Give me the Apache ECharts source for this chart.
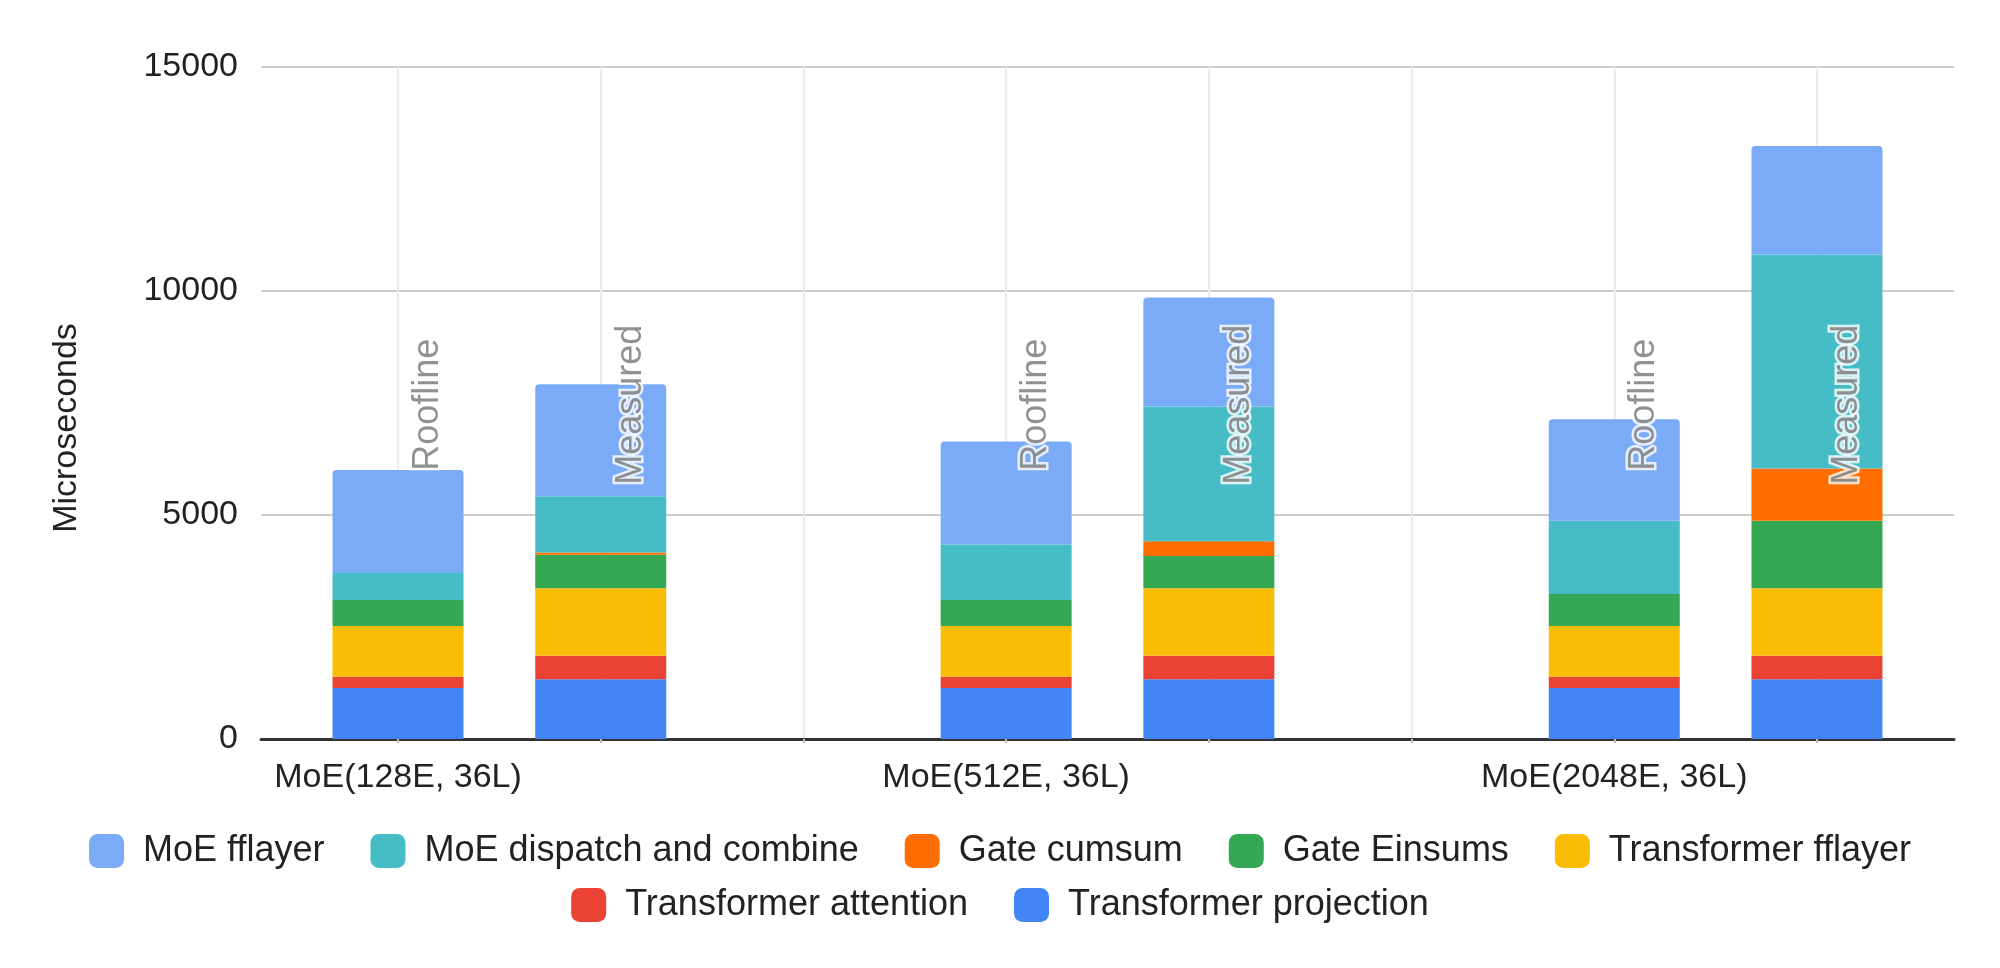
<!DOCTYPE html>
<html>
<head>
<meta charset="utf-8">
<title>MoE step time breakdown</title>
<script src="https://cdn.jsdelivr.net/npm/echarts@6/dist/echarts.min.js"></script>
<style>
  html, body { margin: 0; padding: 0; background: #fff; }
  #chart { width: 2000px; height: 968px; }
</style>
</head>
<body>
<div id="chart"></div>
<script>
// groups on the x axis, two bars each
const groups = ['MoE(128E, 36L)', 'MoE(512E, 36L)', 'MoE(2048E, 36L)'];
const variants = ['Roofline', 'Measured'];

// values per bar, order: 128E Roofline, 128E Measured, 512E Roofline, 512E Measured, 2048E Roofline, 2048E Measured
const transformerProjection = [1140, 1335, 1140, 1335, 1140, 1335];
const transformerAttention  = [250, 525, 250, 525, 250, 525];
const transformerFflayer    = [1130, 1505, 1130, 1505, 1130, 1505];
const gateEinsums           = [585, 745, 585, 720, 715, 1505];
const gateCumsum            = [0, 55, 0, 330, 0, 1170];
const moeDispatchCombine    = [600, 1255, 1235, 3005, 1635, 4775];
const moeFflayer            = [2300, 2500, 2300, 2435, 2270, 2420];

const yTicks = [0, 5000, 10000, 15000];

// stack order bottom -> top
const seriesDefs = [
  { name: 'Transformer projection', data: transformerProjection, color: '#4285F4' },
  { name: 'Transformer attention', data: transformerAttention, color: '#EA4335' },
  { name: 'Transformer fflayer', data: transformerFflayer, color: '#FBBC04' },
  { name: 'Gate Einsums', data: gateEinsums, color: '#34A853' },
  { name: 'Gate cumsum', data: gateCumsum, color: '#FF6D01' },
  { name: 'MoE dispatch and combine', data: moeDispatchCombine, color: '#46BDC6' },
  { name: 'MoE fflayer', data: moeFflayer, color: '#7BAAF7' }
];

// slot of each bar: group g takes slots 3g and 3g+1, slot 3g+2 stays empty
const slotCount = groups.length * 3 - 1;
const slotOf = [];
groups.forEach(function (g, gi) {
  variants.forEach(function (v, vi) { slotOf.push(gi * 3 + vi); });
});
const allSlots = [];
for (let i = 0; i < slotCount; i++) allSlots.push(i);
const groupSlots = groups.map(function (g, gi) { return gi * 3; });

// per slot values for the category axis (empty slot -> '-')
function toSlots(values) {
  const out = allSlots.map(function () { return '-'; });
  values.forEach(function (v, k) { out[slotOf[k]] = v; });
  return out;
}

const FONT = '"Liberation Sans", Arial, Helvetica, sans-serif';
const annotationLevel = 7460;

// plot box
const W = 2000, H = 968;
const gridLeft = 261, gridRight = 46, gridTop = 67, gridBottom = 229;
const pad = 0.676; // axis extent beyond the first / last slot, in slots
const slotPx = (W - gridLeft - gridRight) / (slotCount - 1 + 2 * pad);
const inset = (pad - 0.5) * slotPx;

const series = seriesDefs.map(function (d, i) {
  return {
    name: d.name,
    type: 'bar',
    stack: 'total',
    xAxisIndex: 1,
    yAxisIndex: 1,
    barWidth: 131,
    itemStyle: {
      color: d.color,
      borderRadius: i === seriesDefs.length - 1 ? [4, 4, 0, 0] : 0
    },
    emphasis: { disabled: true },
    data: toSlots(d.data)
  };
});

// Roofline / Measured annotations
series.push({
  type: 'scatter',
  xAxisIndex: 0,
  yAxisIndex: 0,
  symbolSize: 0,
  silent: true,
  z: 10,
  label: {
    show: true,
    position: 'inside',
    rotate: 90,
    offset: [0, 30],
    formatter: function (p) { return p.data[2]; },
    fontFamily: FONT,
    fontSize: 36,
    color: '#757575',
    textBorderColor: '#fff',
    textBorderWidth: 5
  },
  data: slotOf.map(function (s, k) {
    return [s, annotationLevel, variants[k % variants.length]];
  })
});

const legendCommon = {
  left: 'center',
  itemWidth: 35, itemHeight: 34, itemGap: 46,
  icon: 'roundRect',
  textStyle: { fontFamily: FONT, fontSize: 36, color: '#222', padding: [0, 0, 0, 14] }
};

const chart = echarts.init(document.getElementById('chart'), null, { renderer: 'canvas' });
chart.setOption({
  backgroundColor: '#fff',
  animation: false,
  color: seriesDefs.map(function (d) { return d.color; }),
  grid: [
    { left: gridLeft, right: gridRight, top: gridTop, bottom: gridBottom },
    { left: gridLeft + inset, right: gridRight + inset, top: gridTop, bottom: gridBottom }
  ],
  legend: [
    Object.assign({}, legendCommon, {
      top: 828,
      data: ['MoE fflayer', 'MoE dispatch and combine', 'Gate cumsum', 'Gate Einsums', 'Transformer fflayer']
    }),
    Object.assign({}, legendCommon, {
      top: 882,
      data: ['Transformer attention', 'Transformer projection']
    })
  ],
  xAxis: [{
    type: 'value',
    gridIndex: 0,
    min: -pad,
    max: slotCount - 1 + pad,
    axisLine: { show: true, onZero: false, lineStyle: { color: '#333', width: 3 } },
    axisTick: { show: true, customValues: allSlots, length: 4, lineStyle: { color: '#bbb', width: 2 } },
    axisLabel: {
      customValues: groupSlots,
      formatter: function (v) { return groups[Math.round(v) / 3]; },
      fontFamily: FONT, fontSize: 34, color: '#222', margin: 22
    },
    splitLine: { show: true, lineStyle: { color: '#ebebeb', width: 2 } }
  }, {
    type: 'category',
    gridIndex: 1,
    data: allSlots,
    show: false
  }],
  yAxis: [{
    type: 'value',
    gridIndex: 0,
    min: yTicks[0],
    max: yTicks[yTicks.length - 1],
    interval: yTicks[1] - yTicks[0],
    name: 'Microseconds',
    nameLocation: 'middle',
    nameGap: 177,
    nameTextStyle: { fontFamily: FONT, fontSize: 34, color: '#222', padding: [0, 50, 0, 0] },
    axisLine: { show: false },
    axisTick: { show: false },
    axisLabel: {
      formatter: function (v) { return String(v); },
      fontFamily: FONT, fontSize: 34, color: '#222', margin: 23
    },
    splitLine: { lineStyle: { color: '#ccc', width: 2 } }
  }, {
    type: 'value',
    gridIndex: 1,
    min: yTicks[0],
    max: yTicks[yTicks.length - 1],
    interval: yTicks[1] - yTicks[0],
    show: false,
    splitLine: { show: false }
  }],
  series: series
});
</script>
</body>
</html>
